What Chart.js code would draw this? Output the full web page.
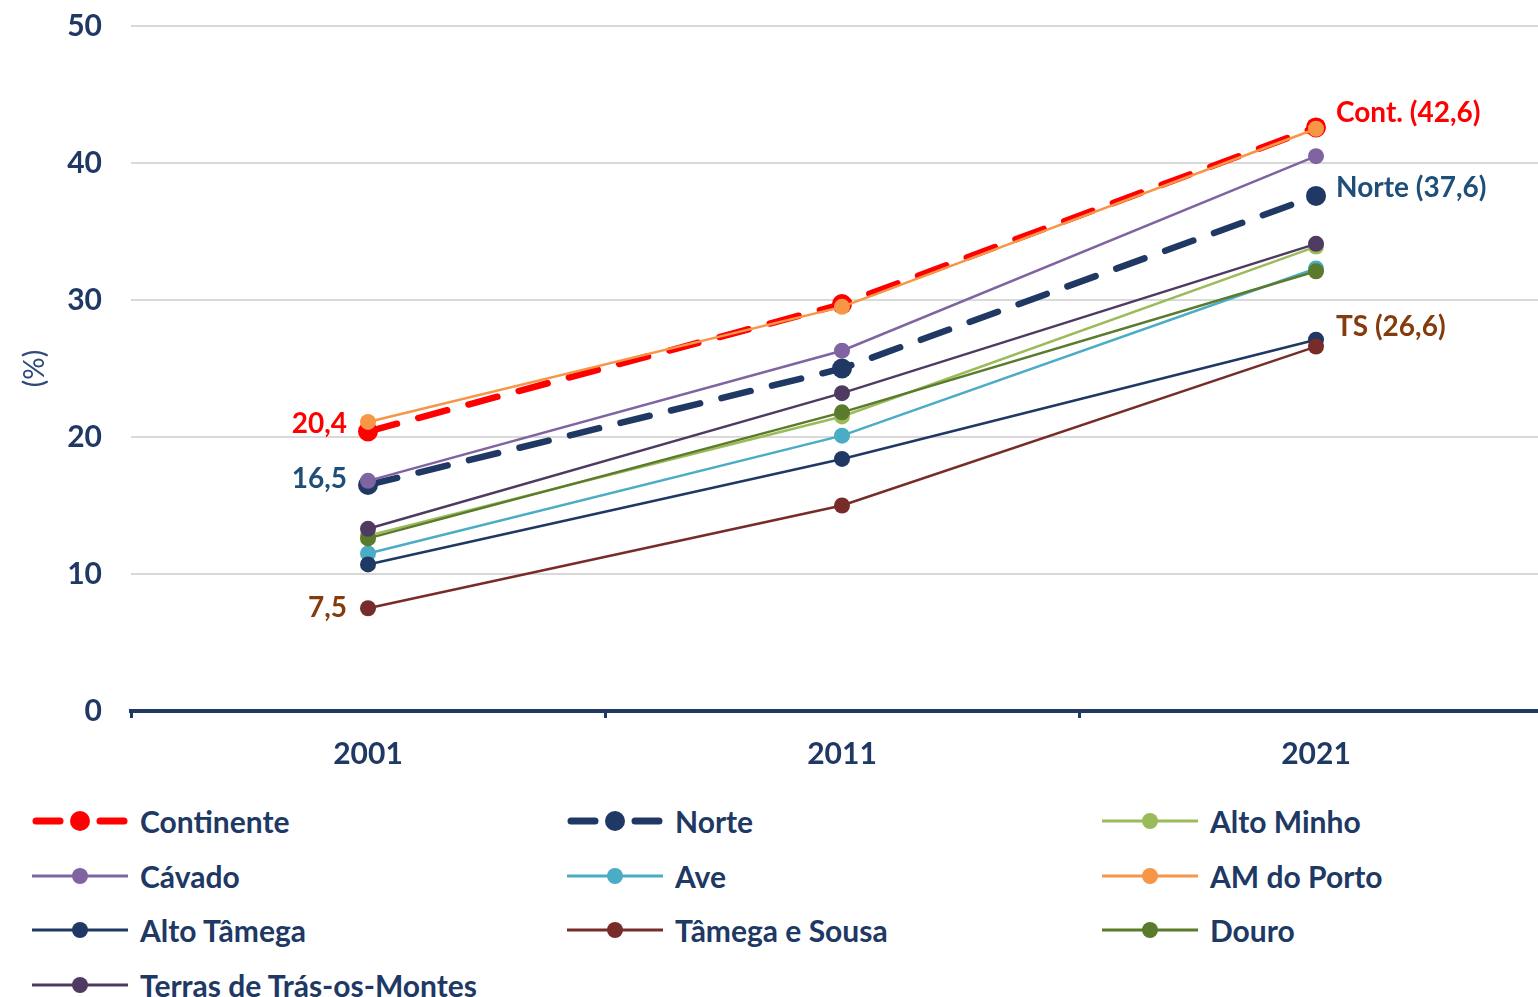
<!DOCTYPE html>
<html lang="pt">
<head>
<meta charset="utf-8">
<title>Evolução 2001-2021</title>
<script src="https://cdn.jsdelivr.net/npm/chart.js@4.4.1/dist/chart.umd.min.js"></script>
<style>
  html, body { margin: 0; padding: 0; background: #fff; overflow: hidden; }
  #wrap { position: relative; width: 1538px; height: 997px; overflow: hidden; }
  #box { position: absolute; left: 0; top: -21px; width: 1563px; height: 801px; }
  #legend {
    position: absolute; left: 32px; top: 794px;
    display: grid; grid-template-columns: 535px 535px 470px;
    grid-auto-rows: 54.5px;
    font-family: Lato, "Open Sans", sans-serif; font-weight: bold;
    font-size: 30px; color: #203864;
  }
  .item { display: flex; align-items: center; }
  .item svg { margin-right: 12px; flex: none; }
</style>
</head>
<body>
<div id="wrap">
  <div id="box"><canvas id="chart"></canvas></div>
  <div id="legend"></div>
</div>
<script>
const years = ['2001', '2011', '2021'];

const seriesNames = ['Continente', 'Norte', 'Alto Minho', 'Cávado', 'Ave', 'AM do Porto',
  'Alto Tâmega', 'Tâmega e Sousa', 'Douro', 'Terras de Trás-os-Montes'];

const continente = [20.4, 29.7, 42.6];
const norte = [16.5, 25.0, 37.6];
const altoMinho = [12.8, 21.5, 33.9];
const cavado = [16.8, 26.3, 40.5];
const ave = [11.5, 20.1, 32.3];
const amPorto = [21.1, 29.5, 42.5];
const altoTamega = [10.7, 18.4, 27.1];
const tamegaSousa = [7.5, 15.0, 26.6];
const douro = [12.6, 21.8, 32.1];
const terras = [13.3, 23.2, 34.1];

const seriesValues = [continente, norte, altoMinho, cavado, ave, amPorto,
  altoTamega, tamegaSousa, douro, terras];
const seriesColors = ['#FF0000', '#1F3864', '#9BBB59', '#8064A2', '#4BACC6', '#F79646',
  '#1F3864', '#772C2A', '#5A7A2C', '#4F3B62'];
const dashed = [true, true, false, false, false, false, false, false, false, false];

const yTicks = [0, 10, 20, 30, 40, 50];

const navy = '#203864';
const font = 'Lato, "Open Sans", sans-serif';

// later series are painted over earlier ones
const datasets = seriesNames.map((name, i) => ({
  label: name,
  data: seriesValues[i],
  order: seriesNames.length - i,
  borderColor: seriesColors[i],
  backgroundColor: seriesColors[i],
  borderWidth: dashed[i] ? 6.5 : 2.5,
  borderDash: dashed[i] ? [30, 22] : [],
  borderCapStyle: 'round',
  pointRadius: dashed[i] ? 10 : 8,
  pointBorderWidth: 0,
  tension: 0
}));

// value callouts next to the end points
const callouts = [
  { ds: 0, pt: 0, text: '20,4', color: '#FF0000', align: 'right', dx: -21, dy: -8 },
  { ds: 1, pt: 0, text: '16,5', color: '#1F4E79', align: 'right', dx: -21, dy: -6 },
  { ds: 7, pt: 0, text: '7,5', color: '#843C0C', align: 'right', dx: -21, dy: 0 },
  { ds: 0, pt: 2, text: 'Cont. (42,6)', color: '#FF0000', align: 'left', dx: 20, dy: -14 },
  { ds: 1, pt: 2, text: 'Norte (37,6)', color: '#1F4E79', align: 'left', dx: 20, dy: -8 },
  { ds: 7, pt: 2, text: 'TS (26,6)', color: '#843C0C', align: 'left', dx: 20, dy: -20 }
];

const calloutPlugin = {
  id: 'callouts',
  afterDatasetsDraw(chart) {
    const ctx = chart.ctx;
    ctx.save();
    ctx.font = 'bold 28px ' + font;
    ctx.textBaseline = 'middle';
    callouts.forEach(c => {
      const p = chart.getDatasetMeta(c.ds).data[c.pt];
      ctx.fillStyle = c.color;
      ctx.textAlign = c.align;
      ctx.fillText(c.text, p.x + c.dx, p.y + c.dy);
    });
    ctx.restore();
  }
};

new Chart(document.getElementById('chart'), {
  type: 'line',
  data: { labels: years, datasets },
  options: {
    responsive: true,
    maintainAspectRatio: false,
    animation: false,
    layout: { padding: { top: 5, left: 0, right: 0, bottom: 0 } },
    plugins: { legend: { display: false }, tooltip: { enabled: false } },
    scales: {
      x: {
        offset: true,
        grid: { display: true, offset: true, drawOnChartArea: false, drawTicks: true,
          tickLength: 7, color: navy, lineWidth: 3 },
        border: { display: true, color: navy, width: 4 },
        ticks: { color: navy, padding: 18, font: { family: font, size: 30, weight: 'bold' } },
        afterFit(scale) { scale.height = 69; }
      },
      y: {
        min: 0, max: 50,
        afterBuildTicks(scale) { scale.ticks = yTicks.map(v => ({ value: v })); },
        grid: { color: '#D9D9D9', lineWidth: 2, drawTicks: false },
        border: { display: false },
        ticks: { color: navy, padding: 29, font: { family: font, size: 30, weight: 'bold' } },
        title: { display: true, text: '(%)', color: '#2F4A7A', padding: { top: 18, bottom: 0 },
          font: { family: font, size: 28 } },
        afterFit(scale) { scale.width = 131; }
      }
    }
  },
  plugins: [calloutPlugin]
});

// legend laid out in three columns
const legend = document.getElementById('legend');
seriesNames.forEach((name, i) => {
  const c = seriesColors[i];
  let sym;
  if (dashed[i]) {
    sym = `<svg width="96" height="24"><line x1="4" y1="12" x2="28" y2="12" stroke="${c}" stroke-width="7" stroke-linecap="round"/>` +
      `<line x1="68" y1="12" x2="92" y2="12" stroke="${c}" stroke-width="7" stroke-linecap="round"/>` +
      `<circle cx="48" cy="12" r="10" fill="${c}"/></svg>`;
  } else {
    sym = `<svg width="96" height="24"><line x1="0" y1="12" x2="96" y2="12" stroke="${c}" stroke-width="3"/>` +
      `<circle cx="48" cy="12" r="8" fill="${c}"/></svg>`;
  }
  const div = document.createElement('div');
  div.className = 'item';
  div.innerHTML = sym + '<span>' + name + '</span>';
  legend.appendChild(div);
});
</script>
</body>
</html>
